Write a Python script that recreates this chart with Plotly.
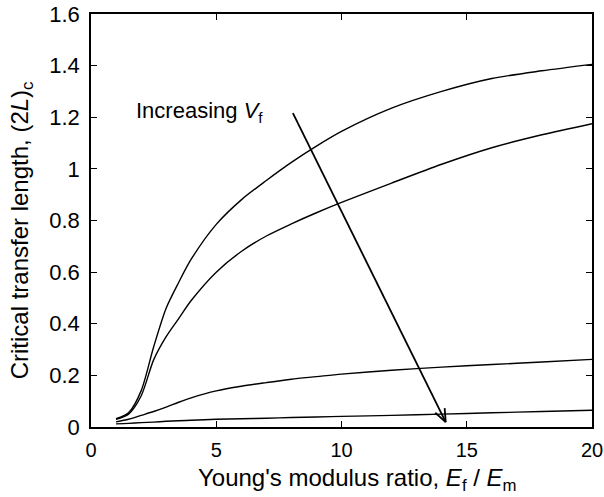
import math
import plotly.graph_objects as go

# Young's modulus ratio Ef/Em
ratio = [1, 1.5, 2, 2.5, 3, 3.5, 4, 5, 6, 7, 8, 9, 10, 12, 14, 16, 18, 20]

# Critical transfer length (2L)c, one series per fibre volume fraction (Vf increasing)
len_vf1 = [0.032, 0.055, 0.14, 0.31, 0.46, 0.56, 0.65, 0.785, 0.88, 0.955, 1.025, 1.088, 1.145, 1.235, 1.30, 1.35, 1.38, 1.405]
len_vf2 = [0.030, 0.050, 0.12, 0.26, 0.35, 0.42, 0.49, 0.60, 0.68, 0.74, 0.787, 0.83, 0.87, 0.945, 1.018, 1.082, 1.132, 1.175]
len_vf3 = [0.020, 0.030, 0.045, 0.060, 0.077, 0.096, 0.113, 0.140, 0.158, 0.172, 0.185, 0.195, 0.205, 0.220, 0.232, 0.242, 0.252, 0.262]
len_vf4 = [0.012, 0.014, 0.017, 0.019, 0.022, 0.024, 0.026, 0.030, 0.032, 0.034, 0.037, 0.039, 0.041, 0.045, 0.050, 0.055, 0.060, 0.065]

x_ticks = [0, 5, 10, 15, 20]
x_tick_text = ["0", "5", "10", "15", "20"]
y_ticks = [0, 0.2, 0.4, 0.6, 0.8, 1.0, 1.2, 1.4, 1.6]
y_tick_text = ["0", "0.2", "0.4", "0.6", "0.8", "1", "1.2", "1.4", "1.6"]

# arrow showing the direction of increasing Vf (data coordinates)
arrow_start = (8.06, 1.216)
arrow_end = (14.16, 0.019)

FONT = "Liberation Sans, Arial, Helvetica, sans-serif"
W, H = 604, 497
ML, MR, MT, MB = 91, 12, 14, 70
X_RANGE = [0, 20]
Y_RANGE = [0, 1.6]

fig = go.Figure()
for ys in (len_vf1, len_vf2, len_vf3, len_vf4):
    fig.add_trace(go.Scatter(
        x=ratio, y=ys, mode="lines",
        line=dict(color="black", width=1.4, shape="spline", smoothing=0.8),
        showlegend=False, hoverinfo="skip",
    ))

axis_common = dict(
    showline=True, linecolor="black", linewidth=1.6, mirror="ticks",
    ticks="inside", ticklen=6, tickwidth=1.2, tickcolor="black",
    showgrid=False, zeroline=False, automargin=False,
)
fig.update_xaxes(range=X_RANGE, tickvals=x_ticks, ticktext=x_tick_text,
                 tickfont=dict(family=FONT, size=20, color="black"),
                 ticklabelstandoff=4, **axis_common)
fig.update_yaxes(range=Y_RANGE, tickvals=y_ticks, ticktext=y_tick_text,
                 tickfont=dict(family=FONT, size=22, color="black"),
                 ticklabelstandoff=5, **axis_common)

# arrow shaft and open V head, head arms computed in pixel space
pw, ph = W - ML - MR, H - MT - MB
sx = pw / (X_RANGE[1] - X_RANGE[0])
sy = ph / (Y_RANGE[1] - Y_RANGE[0])
dx_px = (arrow_end[0] - arrow_start[0]) * sx
dy_px = (arrow_end[1] - arrow_start[1]) * sy
ang = math.atan2(dy_px, dx_px)
head_len, head_ang = 14, math.radians(22)
fig.add_shape(type="line", x0=arrow_start[0], y0=arrow_start[1], x1=arrow_end[0], y1=arrow_end[1],
              line=dict(color="black", width=1.8))
for s in (1, -1):
    a = ang + math.pi + s * head_ang
    fig.add_shape(type="line", x0=arrow_end[0], y0=arrow_end[1],
                  x1=arrow_end[0] + head_len * math.cos(a) / sx,
                  y1=arrow_end[1] + head_len * math.sin(a) / sy,
                  line=dict(color="black", width=1.8))

fig.add_annotation(x=1.7, y=1.22, xref="x", yref="y", xanchor="left", yanchor="middle",
                   text="Increasing <i>V</i><sub>f</sub>", showarrow=False,
                   font=dict(family=FONT, size=22, color="black"))

# axis titles
fig.add_annotation(x=0.532, y=-0.085, xref="paper", yref="paper", yanchor="top", xanchor="center",
                   text="Young's modulus ratio, <i>E</i><sub>f</sub> / <i>E</i><sub>m</sub>",
                   showarrow=False, font=dict(family=FONT, size=24, color="black"))
fig.add_annotation(x=-0.137, y=0.477, xref="paper", yref="paper", xanchor="center", yanchor="middle",
                   textangle=-90,
                   text="Critical transfer length, (2<i>L</i>)<sub>c</sub>",
                   showarrow=False, font=dict(family=FONT, size=24, color="black"))

fig.update_layout(
    width=W, height=H,
    margin=dict(l=ML, r=MR, t=MT, b=MB),
    paper_bgcolor="white", plot_bgcolor="white",
)
fig.write_html("out.html")
